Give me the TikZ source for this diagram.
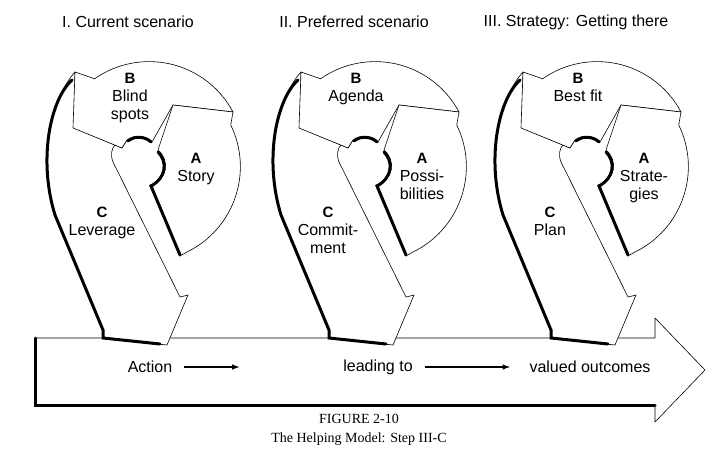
\documentclass[tikz,border=0pt]{standalone}
\usepackage{fontspec}
\setmainfont{Liberation Sans}
\newfontfamily\capfont{Liberation Serif}
\begin{document}
\begin{tikzpicture}
[
x=1pt,y=-1pt,
piece/.style={draw,fill=white,line width=0.6pt,line join=round},
shade/.style={line width=3pt,line cap=round},
lab/.style={font=\fontsize{16}{18}\selectfont,align=center,inner sep=0pt},
key/.style={font=\fontsize{15}{17}\selectfont\bfseries,inner sep=0pt},
]
\useasboundingbox (0,0) rectangle (718,472);

%Bottom arrow
\draw[piece] (35,338) -- (655,338) -- (655,318) -- (705,370) -- (655,422) -- (655,405) -- (35,405) -- cycle;
\draw[shade] (35,338) -- (35,405) -- (655,405);
\node[lab] (act) at (150,367) {Action};
\node[lab] (lead) at (378,367) {leading to};
\node[lab] (val) at (590,367) {valued outcomes};
\draw[line width=1.5pt,-latex] (act.east) ++(12,0) coordinate (a1) -- ++(55,0) coordinate (a2);
\draw[line width=1.5pt,-latex] (lead.east) ++(12,0) coordinate (b1) -- ++(85,0) coordinate (b2);

%The three spirals
\foreach \dx/\title/\blab/\alab/\clab in {
  0/{I. Current scenario}/{Blind\\spots}/Story/Leverage,
  226/{II. Preferred scenario}/Agenda/{Possi-\\bilities}/{Commit-\\ment},
  448/{III. Strategy: Getting there}/{Best fit}/{Strate-\\gies}/Plan}
{
\begin{scope}[xshift=\dx]
\node[lab] (title) at (128,22) {\title};
%C
\draw[piece] (75,72) .. controls (50,100) and (38,160) .. (55,215) -- (103,330) -- (103,338)
  -- (167,345) -- (188,295) -- (180,297) -- (116,168) .. controls (106,152) and (114,140) .. (127,140)
  -- (122,148) -- (75,128) -- cycle;
\draw[shade] (72,80) .. controls (50,100) and (38,160) .. (55,215) -- (103,330) -- (103,338) -- (160,344);
%B
\draw[piece] (233,112) arc[start angle=-28,end angle=-125,radius=95] -- (75,72) -- (73,128)
  -- (122,148) -- (127,140) .. controls (135,134) and (148,136) .. (152,142) -- (173,105) -- cycle;
\draw[shade] (128,141) .. controls (135,135) and (146,137) .. (151,142);
%A
\draw[piece] (187,252) arc[start angle=64,end angle=-26,radius=95] -- (233,112) -- (173,105)
  -- (158,150) .. controls (170,160) and (168,180) .. (150,185) -- (180,256) -- cycle;
\draw[shade] (158,152) .. controls (168,162) and (166,178) .. (151,186) -- (180,255);
%Labels
\node[key] (keyB) at (130,78) {B};
\node[lab,anchor=north] (txtB) at (130,90) {\blab};
\node[key] (keyA) at (196,158) {A};
\node[lab,anchor=north] (txtA) at (196,170) {\alab};
\node[key] (keyC) at (102,212) {C};
\node[lab,anchor=north] (txtC) at (102,224) {\clab};
\end{scope}
}

%Caption
\node[font=\capfont\fontsize{14}{19}\selectfont,align=center] (cap) at (359,430) {FIGURE 2-10\\The Helping Model: Step III-C};
\end{tikzpicture}
\end{document}
